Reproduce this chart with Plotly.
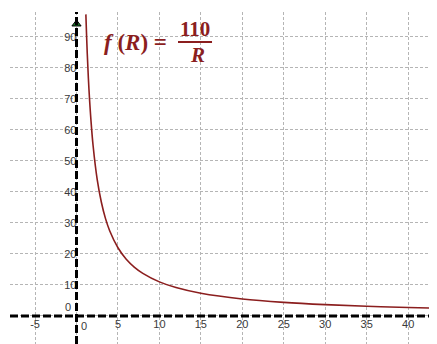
import plotly.graph_objects as go

# Curve samples of f(R) = 110 / R
R_vals = [1.13, 1.2, 1.3, 1.4, 1.5, 1.75, 2, 2.5, 3, 3.5, 4, 5, 6, 7, 8, 10, 12, 15, 20, 25, 30, 35, 40, 43.5]
F_vals = [97.3, 91.7, 84.6, 78.6, 73.3, 62.9, 55.0, 44.0, 36.7, 31.4, 27.5, 22.0, 18.3, 15.7, 13.75, 11.0, 9.17, 7.33, 5.5, 4.4, 3.67, 3.14, 2.75, 2.53]

x_ticks = [-5, 5, 10, 15, 20, 25, 30, 35, 40]
y_ticks = [10, 20, 30, 40, 50, 60, 70, 80, 90]

X_RANGE = [-8.02, 43.48]
Y_RANGE = [-9.04, 98.06]

curve_color = "#8B1E1E"
label_font = dict(family="Liberation Sans, Arial, sans-serif", size=11, color="#3a3a3a")
serif = "Liberation Serif, DejaVu Serif, serif"

fig = go.Figure()

fig.add_trace(go.Scatter(x=R_vals, y=F_vals, mode="lines", line=dict(color=curve_color, width=1.6, shape="spline"),
                         hoverinfo="skip", showlegend=False))

# axes (thick dashed)
fig.add_shape(type="line", x0=X_RANGE[0], x1=X_RANGE[1], y0=0, y1=0, line=dict(color="black", width=3, dash="8px,3px"), layer="above")
fig.add_shape(type="line", x0=0, x1=0, y0=Y_RANGE[0], y1=Y_RANGE[1], line=dict(color="black", width=3, dash="8px,3px"), layer="above")

# arrowheads
fig.add_trace(go.Scatter(x=[0], y=[94.2], mode="markers", marker=dict(symbol="triangle-up", size=8, color="#1a7a2a", line=dict(color="black", width=1)),
                         hoverinfo="skip", showlegend=False))
fig.add_trace(go.Scatter(x=[42.9], y=[0], mode="markers", marker=dict(symbol="triangle-right", size=8, color="#1a7a2a", line=dict(color="black", width=1)),
                         hoverinfo="skip", showlegend=False, cliponaxis=False))

# zero labels, offset from the axes
fig.add_annotation(x=0.3, y=0, text="0", showarrow=False, xanchor="left", yanchor="top", yshift=-2, font=label_font)
fig.add_annotation(x=-0.4, y=0, text="0", showarrow=False, xanchor="right", yanchor="bottom", yshift=1, font=label_font)

# formula label
fig.add_annotation(x=(135 - 76.5) / 8.29, y=(316 - 43) / 3.1, text="<b><i>f</i> (<i>R</i>) =</b>", showarrow=False,
                   font=dict(family=serif, size=23, color=curve_color))
fig.add_annotation(x=(195 - 76.5) / 8.29, y=(316 - 29) / 3.1, text="<b>110</b>", showarrow=False,
                   font=dict(family=serif, size=21, color=curve_color))
fig.add_annotation(x=(197 - 76.5) / 8.29, y=(316 - 55) / 3.1, text="<b><i>R</i></b>", showarrow=False,
                   font=dict(family=serif, size=21, color=curve_color))
fig.add_shape(type="line", x0=(178 - 76.5) / 8.29, x1=(212 - 76.5) / 8.29, y0=(316 - 42) / 3.1, y1=(316 - 42) / 3.1,
              line=dict(color=curve_color, width=1.8))

minor_grid = dict(tickvals=[0], showgrid=True, gridcolor="#b5b5b5", griddash="3px,2px", ticks="")
grid_common = dict(showgrid=True, gridcolor="#b5b5b5", griddash="3px,2px", gridwidth=1,
                   zeroline=False, showline=False, automargin=False,
                   tickfont=label_font, ticks="", fixedrange=True, minor=minor_grid)

# The page body has an 8px margin; compensate so the plot area lands where the reference has it.
fig.update_layout(
    width=429, height=336,
    margin=dict(l=2, r=0, t=4, b=0),
    plot_bgcolor="white", paper_bgcolor="white",
    xaxis=dict(range=X_RANGE, tickvals=x_ticks, ticktext=[str(v) for v in x_ticks],
               anchor="free", position=(0 - Y_RANGE[0]) / (Y_RANGE[1] - Y_RANGE[0]), **grid_common),
    yaxis=dict(range=Y_RANGE, tickvals=y_ticks, ticktext=[str(v) for v in y_ticks],
               anchor="free", position=(0 - X_RANGE[0]) / (X_RANGE[1] - X_RANGE[0]), **grid_common),
    showlegend=False,
)

fig.write_html("out.html")
